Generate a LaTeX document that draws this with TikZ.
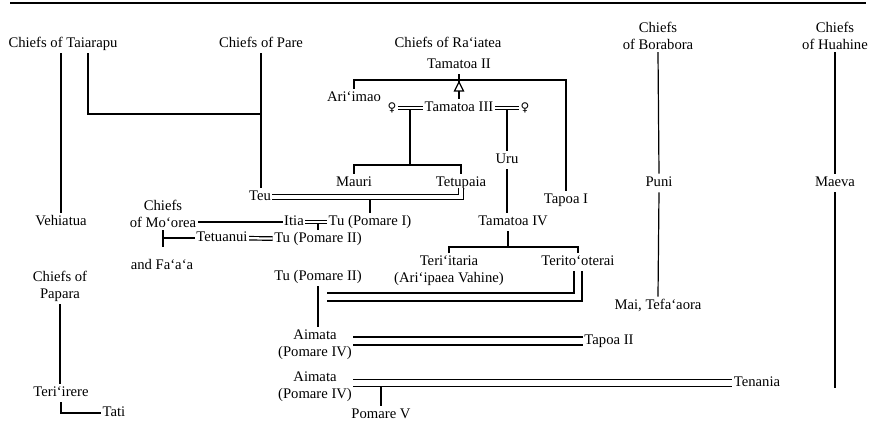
\documentclass[tikz,border=0pt]{standalone}
\usepackage{fontspec}
\setmainfont{Liberation Serif}
\newfontfamily\venusfont{DejaVu Sans}
\usetikzlibrary{calc}

\begin{document}
\begin{tikzpicture}[
    x=0.75pt, y=-0.75pt,
    font=\fontsize{11}{12.75}\selectfont,
    who/.style={inner xsep=1pt, inner ysep=2pt, text height=7.6pt, text depth=2.2pt},
    clan/.style={align=center, inner xsep=1pt, inner ysep=2pt},
    fem/.style={inner sep=1pt, font=\venusfont\fontsize{9}{9}\selectfont},
    kin/.style={line width=0.9pt},
    wed/.style={kin, double, double distance=#1},
    wed/.default=1.7pt
  ]
  \useasboundingbox (0,0) rectangle (872,445);
  \draw[line width=1pt] (10,3) -- (866,3);

  %% CHIEFS (TOP ROW)
  \node[who] (tai) at (63,44) {Chiefs of Taiarapu};
  \node[who] (pare) at (261,44) {Chiefs of Pare};
  \node[who] (rai) at (448,44) {Chiefs of Ra‘iatea};
  \node[clan] (bor) at (658,35.5) {Chiefs\\of Borabora};
  \node[clan] (hua) at (835,35.5) {Chiefs\\of Huahine};

  %% RA'IATEA LINE
  \node[who] (tamII) at (459,65) {Tamatoa II};
  \node[who] (arimao) at (354,98) {Ari‘imao};
  \node[who] (tamIII) at (459,108) {Tamatoa III};
  \node[fem] (fa) at (392,108) {♀};
  \node[fem] (fb) at (525,108) {♀};
  \node[who] (mauri) at (354,183) {Mauri};
  \node[who] (tetupaia) at (461,183) {Tetupaia};
  \node[who] (uru) at (507,160) {Uru};
  \node[who] (tapoaI) at (566,200) {Tapoa I};
  \node[who] (tamIV) at (513,222) {Tamatoa IV};
  \node[clan] (teriitaria) at (449,271) {Teri‘itaria\\(Ari‘ipaea Vahine)};
  \node[who] (terito) at (578,262) {Terito‘oterai};

  %% TAHITI AND MO'OREA
  \node[who] (teu) at (260,197) {Teu};
  \node[who] (vehiatua) at (61,222) {Vehiatua};
  \node[clan] (moorea) at (163,213.5) {Chiefs\\of Mo‘orea};
  \node[who] (itia) at (294,222) {Itia};
  \node[who] (tuI) at (370,222) {Tu (Pomare I)};
  \node[who] (tetuanui) at (222,238) {Tetuanui};
  \node[who] (tuII) at (318,239) {Tu (Pomare II)};
  \node[who] (faaa) at (162,266) {and Fa‘a‘a};
  \node[who] (tuIIb) at (318,277) {Tu (Pomare II)};
  \node[clan] (papara) at (60,286) {Chiefs of\\Papara};
  \node[who] (teriirere) at (61,393) {Teri‘irere};
  \node[who] (tati) at (114,413) {Tati};
  \node[clan] (aimataA) at (315,345) {Aimata\\(Pomare IV)};
  \node[who] (tapoaII) at (609,341) {Tapoa II};
  \node[clan] (aimataB) at (315,387) {Aimata\\(Pomare IV)};
  \node[who] (tenania) at (757,383) {Tenania};
  \node[who] (pomareV) at (381,415) {Pomare V};

  %% BORABORA AND HUAHINE
  \node[who] (puni) at (659,183) {Puni};
  \node[who] (mai) at (658,306) {Mai, Tefa‘aora};
  \node[who] (maeva) at (835,183) {Maeva};

  %% JUNCTIONS
  \coordinate (paj) at (261,114);
  \coordinate (top) at (459,80);
  \coordinate (apex) at (459,82);
  \coordinate (tribase) at (459,91);
  \coordinate (mj) at (410,165);
  \coordinate (tj) at (508,247);
  \coordinate (tuw) at (327,297);
  \coordinate (hend) at (835,388);

  %% DESCENT LINES
  \draw[kin] (tai.south -| vehiatua.north) -- (vehiatua.north);
  \draw[kin] ([xshift=18.75pt]tai.south) |- (paj);
  \draw[kin] (pare.south) -- (pare.south |- teu.north);
  \draw[kin] (arimao.north) |- (top) -| (tapoaI.north);
  \draw[kin] (tamII.south) -- (apex);
  \draw[kin, fill=white] (apex) -- ++(4.5,9) -- ++(-9,0) -- cycle;
  \draw[kin] (tribase) -- (tamIII.north);
  \draw[kin] (mj |- tamIII.west) -- (mj);
  \draw[kin] (mauri.north) |- (mj) -| (tetupaia.north);
  \draw[kin] (uru.north |- tamIII.east) -- (uru.north);
  \draw[kin] (uru.south) -- (uru.south |- tamIV.north);
  \draw[kin] (tamIV.south -| tj) -- (tj);
  \draw[kin] (teriitaria.north) |- (tj) -| (terito.north);
  \draw[kin] (tuI.north |- teu.east) -- (tuI.north);
  \draw[kin] (moorea.east |- itia.west) -- (itia.west);
  \draw[kin] (moorea.south) -- (moorea.south |- 0,247);
  \draw[kin] (moorea.south |- tetuanui.west) -- (tetuanui.west);
  \draw[kin] (tuII.north |- itia.east) -- (tuII.north);
  \draw[kin] (tuIIb.south) -- (tuIIb.south |- aimataA.north);
  \draw[kin] (pomareV.north |- tenania.west) -- (pomareV.north);
  \draw[kin] (papara.south) -- (papara.south |- teriirere.north);
  \draw[kin] (teriirere.south) |- (tati.west);
  \draw[kin] (bor.south) -- (puni.north);
  \draw[kin] (puni.south) -- (mai.north);
  \draw[kin] (hua.south) -- (maeva.north);
  \draw[kin] (maeva.south) -- (hend);

  %% MARRIAGES
  \draw[wed] (fa) -- (tamIII);
  \draw[wed] (tamIII) -- (fb);
  \draw[wed] (itia) -- (tuI);
  \draw[wed] (tetuanui) -- (tuII);
  \draw[wed=2.95pt] (teu.east) -| ([yshift=3pt]tetupaia.south);
  \draw[wed=5.2pt] (tuw) -| (terito.south);
  \draw[wed=5.2pt] (aimataA.east |- tapoaII.west) -- (tapoaII.west);
  \draw[wed=4.45pt] (aimataB.east |- tenania.west) -- (tenania.west);
\end{tikzpicture}
\end{document}
